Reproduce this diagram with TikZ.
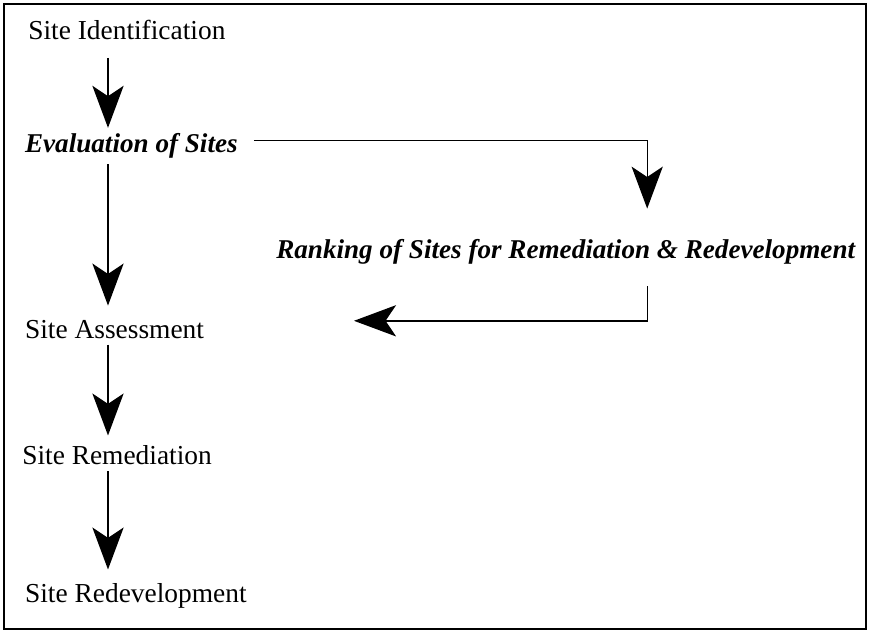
\documentclass[tikz,border=0pt]{standalone}
\usepackage{fontspec}
\setmainfont{Liberation Serif}
\usetikzlibrary{arrows.meta,calc,positioning}

\begin{document}
\begin{tikzpicture}[
    stage/.style={inner sep=0pt, anchor=base west, font=\fontsize{19.5}{23}\selectfont},
    ranked/.style={stage, font=\fontsize{19.3}{23}\selectfont\bfseries\itshape},
    flow/.style={line width=1.3pt, -{Stealth[length=10.5mm, width=7.8mm, inset=2.6mm]}},
    link/.style={line width=1pt, -{Stealth[length=10.5mm, width=7.8mm, inset=2.6mm]}}
  ]
    \useasboundingbox (0,0) rectangle (21.75,-15.9);
    \draw [line width=1pt] (0.1,-0.1) rectangle (21.65,-15.72);

    % left column
    \node (ident)  [stage]  at (0.7,-0.98)   {Site Identification};
    \node (eval)   [ranked] at (0.62,-3.8)   {Evaluation of Sites};
    \node (assess) [stage]  at (0.62,-8.45)  {Site Assessment};
    \node (remed)  [stage]  at (0.55,-11.62) {Site Remediation};
    \node (redev)  [stage]  at (0.62,-15.07) {Site Redevelopment};

    % right branch
    \node (rank)   [ranked] at (6.9,-6.45) {Ranking of Sites for Remediation \& Redevelopment};

    \coordinate (col)  at (2.7,0);
    \coordinate (rcol) at (16.18,0);
    \coordinate (back) at (8.85,-8.02);

    \draw [flow] ($(ident.south -| col)+(0,-0.45)$) -- ($(eval.north -| col)+(0,0.12)$);
    \draw [flow] ($(eval.south -| col)+(0,-0.15)$) -- ($(assess.north -| col)+(0,0.35)$);
    \draw [flow] ($(assess.south -| col)+(0,-0.15)$) -- ($(remed.north -| col)+(0,0.25)$);
    \draw [flow] ($(remed.south -| col)+(0,-0.15)$) -- ($(redev.north -| col)+(0,0.35)$);

    \draw [link] ($(eval.east)+(0.4,0.12)$) -| ($(rank.north -| rcol)+(0,0.75)$);
    \draw [link] ($(rank.south -| rcol)+(0,-0.55)$) |- (back);
\end{tikzpicture}
\end{document}
